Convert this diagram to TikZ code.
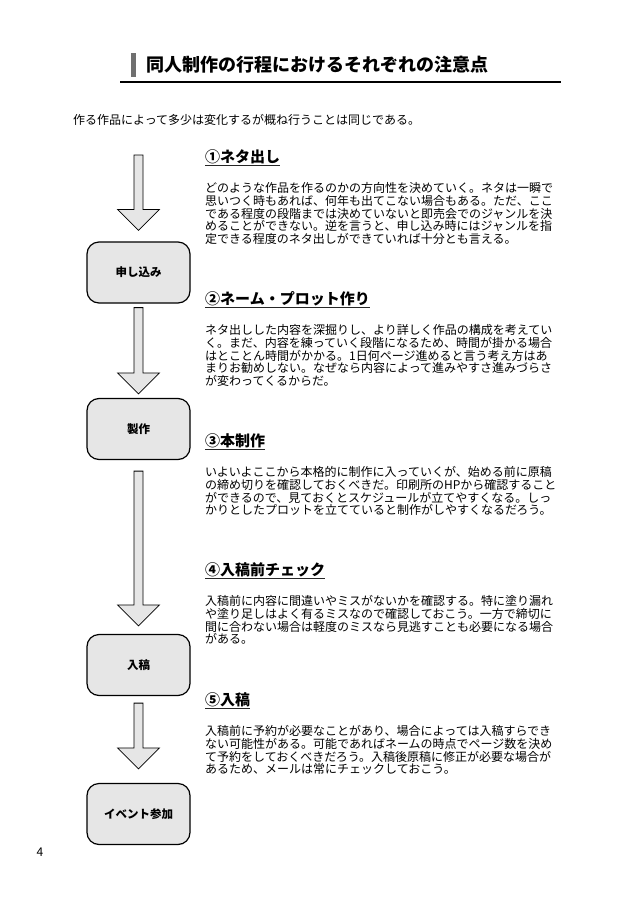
\documentclass[tikz,border=0pt]{standalone}
\usepackage{fontspec}
\setmainfont{Noto Sans CJK JP}
\usetikzlibrary{calc}
\definecolor{boxgray}{HTML}{E6E6E6}
\definecolor{bargray}{HTML}{707070}
\tikzset{
  titletext/.style={inner sep=0pt, anchor=base west, font=\fontsize{18pt}{20pt}\selectfont\bfseries},
  introtext/.style={inner sep=0pt, anchor=base west, font=\fontsize{12pt}{13pt}\selectfont},
  headtext/.style={inner sep=0pt, anchor=base west, font=\fontsize{15pt}{17pt}\selectfont\bfseries},
  bodytext/.style={inner sep=0pt, anchor=base west, text width=349pt, align=left, font=\fontsize{12pt}{12.7pt}\selectfont},
  uline/.style={line width=1.2pt, black!85},
  stepbox/.style={draw=black, line width=1.2pt, fill=boxgray, rounded corners=12pt,
    minimum width=103pt, minimum height=61pt, font=\fontsize{11.5pt}{13pt}\selectfont\bfseries},
  blockarr/.style={draw=black, line width=0.8pt, fill=boxgray, line join=miter},
}
\newcommand\blkarrow[2]{%
  \draw[blockarr] let \p1=(#1), \p2=(#2) in
    ({\x1-4.5pt},{\y1}) -- ({\x1-4.5pt},{\y2+21pt}) -- ({\x1-21pt},{\y2+21pt}) --
    ({\x2},{\y2}) -- ({\x1+21pt},{\y2+21pt}) -- ({\x1+4.5pt},{\y2+21pt}) --
    ({\x1+4.5pt},{\y1}) -- cycle;}
\begin{document}
\begin{tikzpicture}[x=1pt,y=-1pt]
\useasboundingbox[fill=white] (0,0) rectangle (634,900);

% title
\fill[bargray] (131,53) rectangle (135.5,77);
\node[titletext] (title) at (146,71) {同人制作の行程におけるそれぞれの注意点};
\coordinate (ruleL) at (120,82);
\coordinate (ruleR) at (561,82);
\draw[line width=1.8pt] (ruleL) -- (ruleR);

\node[introtext] (intro) at (73,124.5) {作る作品によって多少は変化するが概ね行うことは同じである。};

% headings
\node[headtext] (h1) at (205,162.7) {①ネタ出し};
\node[headtext] (h2) at (205,304.7) {②ネーム・プロット作り};
\node[headtext] (h3) at (205,446.7) {③本制作};
\node[headtext] (h4) at (205,575.7) {④入稿前チェック};
\node[headtext] (h5) at (205,705.7) {⑤入稿};
\foreach \h in {h1,h2,h3,h4,h5}{
  \draw[uline] ([yshift=-3pt]\h.base west) -- ([yshift=-3pt]\h.base east);
}

% bodies
\node[bodytext] (b1) at (205,192.6) {どのような作品を作るのかの方向性を決めていく。ネタは一瞬で\\
思いつく時もあれば、何年も出てこない場合もある。ただ、ここ\\
である程度の段階までは決めていないと即売会でのジャンルを決\\
めることができない。逆を言うと、申し込み時にはジャンルを指\\
定できる程度のネタ出しができていれば十分とも言える。};

\node[bodytext] (b2) at (205,334.6) {ネタ出しした内容を深掘りし、より詳しく作品の構成を考えてい\\
く。まだ、内容を練っていく段階になるため、時間が掛かる場合\\
はとことん時間がかかる。1日何ページ進めると言う考え方はあ\\
まりお勧めしない。なぜなら内容によって進みやすさ進みづらさ\\
が変わってくるからだ。};

\node[bodytext] (b3) at (205,476.6) {いよいよここから本格的に制作に入っていくが、始める前に原稿\\
の締め切りを確認しておくべきだ。印刷所のHPから確認すること\\
ができるので、見ておくとスケジュールが立てやすくなる。しっ\\
かりとしたプロットを立てていると制作がしやすくなるだろう。};

\node[bodytext] (b4) at (205,605.6) {入稿前に内容に間違いやミスがないかを確認する。特に塗り漏れ\\
や塗り足しはよく有るミスなので確認しておこう。一方で締切に\\
間に合わない場合は軽度のミスなら見逃すことも必要になる場合\\
がある。};

\node[bodytext] (b5) at (205,735.6) {入稿前に予約が必要なことがあり、場合によっては入稿すらでき\\
ない可能性がある。可能であればネームの時点でページ数を決め\\
て予約をしておくべきだろう。入稿後原稿に修正が必要な場合が\\
あるため、メールは常にチェックしておこう。};

% flow boxes
\node[stepbox] (s1) at (138.5,272.5) {申し込み};
\node[stepbox] (s2) at (138.5,429) {製作};
\node[stepbox] (s3) at (138.5,665) {入稿};
\node[stepbox] (s4) at (138.5,814) {イベント参加};

% arrows
\coordinate (a1s) at (138.5,155);
\coordinate (a1e) at ([yshift=11pt]s1.north);
\coordinate (a2s) at ([yshift=-4pt]s1.south);
\coordinate (a2e) at ([yshift=4pt]s2.north);
\coordinate (a3s) at ([yshift=-11pt]s2.south);
\coordinate (a3e) at ([yshift=8pt]s3.north);
\coordinate (a4s) at ([yshift=-7pt]s3.south);
\coordinate (a4e) at ([yshift=14pt]s4.north);
\blkarrow{a1s}{a1e}
\blkarrow{a2s}{a2e}
\blkarrow{a3s}{a3e}
\blkarrow{a4s}{a4e}

\node[font=\fontsize{12pt}{13pt}\selectfont] (pnum) at (40,852) {4};
\end{tikzpicture}
\end{document}
